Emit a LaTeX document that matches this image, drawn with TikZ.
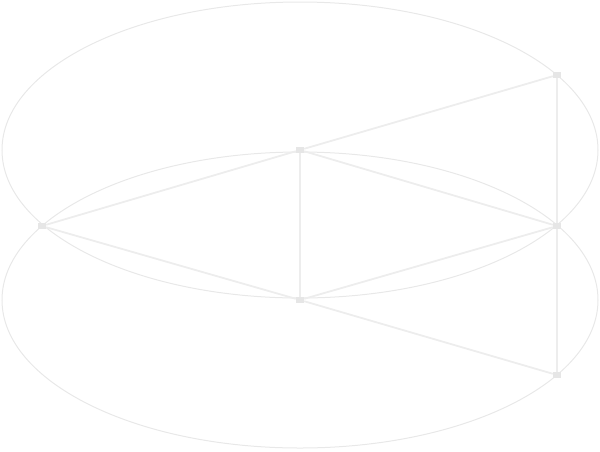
\documentclass[tikz,border=0pt]{standalone}
\definecolor{edgegray}{HTML}{EDEDED}
\definecolor{ringgray}{HTML}{E8E8E8}
\definecolor{dotgray}{HTML}{E6E6E6}
\tikzset{
  vtx/.style={rectangle, fill=dotgray, draw=none, minimum width=8pt, minimum height=6pt, inner sep=0pt},
  link/.style={draw=edgegray, line width=1.8pt},
  ring/.style={draw=ringgray, line width=1pt}
}
\begin{document}
\begin{tikzpicture}[x=1pt,y=-1pt]
\useasboundingbox (0,0) rectangle (600,451);
\draw[ring] (300,150) ellipse [x radius=298, y radius=148];
\draw[ring] (300,300) ellipse [x radius=298, y radius=148];
\node[vtx] (a) at (557,75) {};
\node[vtx] (b) at (300,150) {};
\node[vtx] (c) at (42,226) {};
\node[vtx] (d) at (557,226) {};
\node[vtx] (e) at (300,300) {};
\node[vtx] (f) at (557,375) {};
\draw[link] (b) -- (a);
\draw[link] (a) -- (d);
\draw[link] (c) -- (b);
\draw[link] (b) -- (d);
\draw[link] (b) -- (e);
\draw[link] (c) -- (e);
\draw[link] (e) -- (d);
\draw[link] (e) -- (f);
\draw[link] (d) -- (f);
\end{tikzpicture}
\end{document}
